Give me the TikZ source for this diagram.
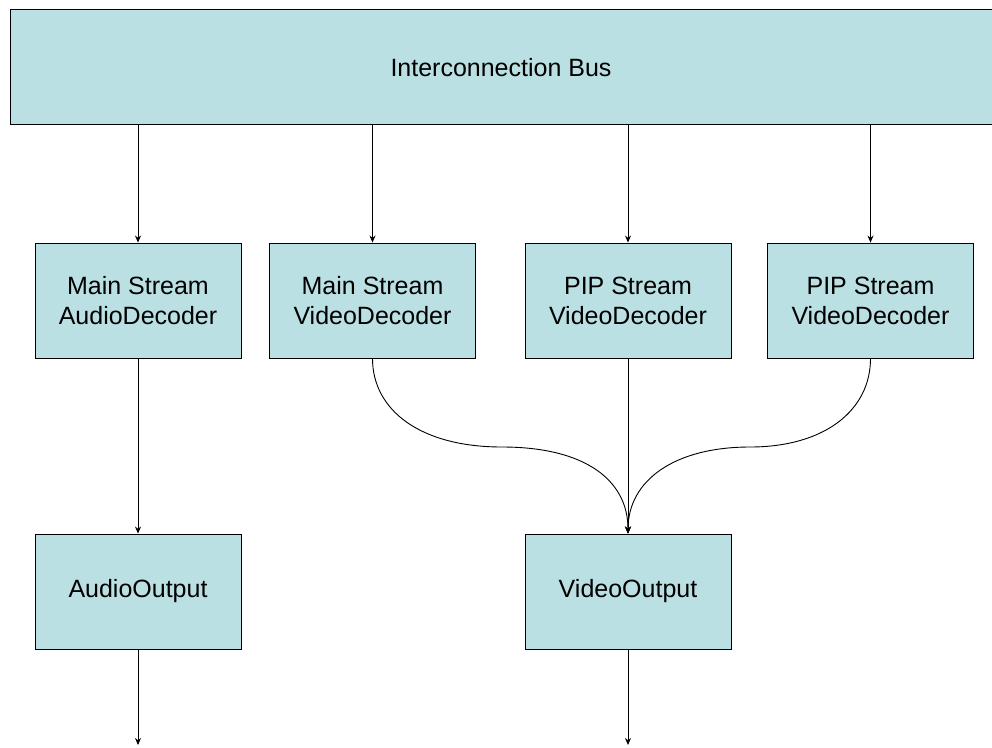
\documentclass[tikz,border=0pt]{standalone}
\usepackage{fontspec}
\setmainfont{Liberation Sans}
\usetikzlibrary{arrows.meta}
\definecolor{boxfill}{HTML}{BBE0E3}
\begin{document}
\begin{tikzpicture}[x=1pt,y=-1pt,
  blk/.style={draw=black, line width=0.9pt, fill=boxfill, minimum width=206pt, minimum height=115pt,
    inner sep=0pt, align=center, font=\fontsize{25}{30}\selectfont},
  arr/.style={draw=black, line width=0.9pt, -{Stealth[length=7pt,width=6pt]}}]
\useasboundingbox (0,0) rectangle (992,747);
\node[blk, minimum width=990pt] (bus) at (505,66.5) {};
\node[font=\fontsize{25}{30}\selectfont] (bustext) at (501,68) {Interconnection Bus};
\node[blk] (b1) at (138,300.5) {Main Stream\\AudioDecoder};
\node[blk] (b2) at (372.5,300.5) {Main Stream\\VideoDecoder};
\node[blk] (b3) at (628,300.5) {PIP Stream\\VideoDecoder};
\node[blk] (b4) at (870.5,300.5) {PIP Stream\\VideoDecoder};
\node[blk] (ao) at (138,591.5) {AudioOutput};
\node[blk] (vo) at (628,591.5) {VideoOutput};
\coordinate (aend) at (138,745);
\coordinate (vend) at (628,745);
\coordinate (m1) at (502,447);
\coordinate (m2) at (750,447);
\draw[arr] (bus.south -| b1.north) -- (b1.north);
\draw[arr] (bus.south -| b2.north) -- (b2.north);
\draw[arr] (bus.south -| b3.north) -- (b3.north);
\draw[arr] (bus.south -| b4.north) -- (b4.north);
\draw[arr] (b1.south) -- (ao.north);
\draw[arr] (b3.south) -- (vo.north);
\draw[arr] (b2.south) .. controls (372.5,410) and (420,447) .. (m1) .. controls (585,447) and (628,480) .. (vo.north);
\draw[arr] (b4.south) .. controls (870.5,410) and (825,447) .. (m2) .. controls (675,447) and (628,480) .. (vo.north);
\draw[arr] (ao.south) -- (aend);
\draw[arr] (vo.south) -- (vend);
\end{tikzpicture}
\end{document}
